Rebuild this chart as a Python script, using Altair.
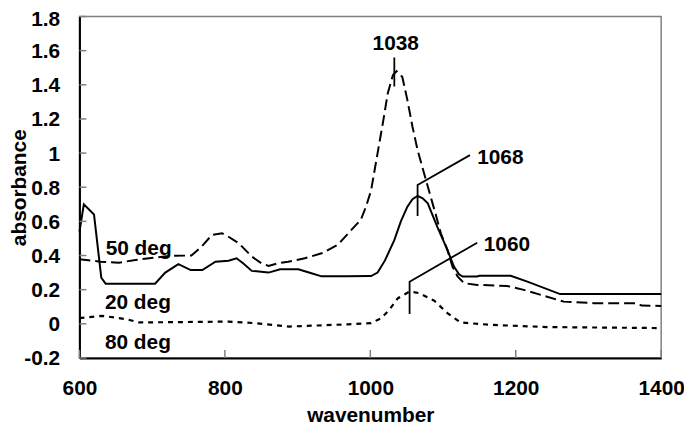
import altair as alt
import pandas as pd

# ---- data ----
x20 = [600, 606, 620, 630, 636, 704, 718, 736, 753, 769, 787, 805, 816, 825, 837, 860, 876, 901, 919, 933,
       965, 1001, 1010, 1020, 1033, 1042, 1051, 1058, 1065, 1072, 1079, 1092, 1106, 1115, 1122, 1127, 1147,
       1150, 1193, 1216, 1261, 1400]
y20 = [0.54, 0.70, 0.64, 0.27, 0.235, 0.235, 0.30, 0.35, 0.315, 0.315, 0.364, 0.37, 0.384, 0.355, 0.31, 0.30,
       0.32, 0.32, 0.296, 0.278, 0.278, 0.28, 0.30, 0.37, 0.49, 0.60, 0.686, 0.73, 0.749, 0.735, 0.706, 0.569,
       0.433, 0.335, 0.29, 0.277, 0.277, 0.281, 0.281, 0.247, 0.174, 0.174]

x50 = [600, 629, 654, 677, 723, 754, 768, 782, 796, 805, 819, 837, 850, 860, 873, 887, 910, 933, 955, 974,
       987, 994, 1001, 1010, 1017, 1024, 1031, 1036, 1044, 1051, 1058, 1065, 1074, 1083, 1090, 1097, 1106,
       1113, 1120, 1129, 1147, 1188, 1211, 1239, 1266, 1307, 1366, 1373, 1400]
y50 = [0.378, 0.364, 0.358, 0.374, 0.398, 0.40, 0.452, 0.52, 0.53, 0.51, 0.472, 0.394, 0.355, 0.339, 0.355,
       0.364, 0.384, 0.413, 0.462, 0.55, 0.61, 0.686, 0.78, 1.0, 1.17, 1.35, 1.456, 1.48, 1.446, 1.31, 1.154,
       1.018, 0.88, 0.744, 0.64, 0.53, 0.433, 0.335, 0.277, 0.238, 0.228, 0.222, 0.199, 0.164, 0.13, 0.121,
       0.121, 0.107, 0.105]

x80 = [600, 631, 665, 682, 805, 841, 889, 969, 1001, 1015, 1026, 1038, 1054, 1067, 1088, 1106, 1124, 1165,
       1243, 1400]
y80 = [0.033, 0.047, 0.027, 0.008, 0.013, 0.004, -0.016, -0.003, 0.004, 0.033, 0.082, 0.15, 0.189, 0.18,
       0.135, 0.063, 0.008, -0.006, -0.019, -0.025]

# peak annotation leader lines
lead_id = ["1038", "1038", "1068", "1068", "1068", "1060", "1060", "1060"]
lead_x = [1033, 1033, 1137, 1065, 1065, 1147, 1054, 1054]
lead_y = [1.56, 1.39, 0.988, 0.813, 0.632, 0.475, 0.247, 0.058]
lead_ord = [0, 1, 0, 1, 2, 0, 1, 2]

# peak labels
peak_text = ["1068", "1060"]
peak_x = [1147, 1156]
peak_y = [0.969, 0.462]
top_text = ["1038"]
top_x = [1035]
top_y = [1.64]

# series labels
ser_text = ["50 deg", "20 deg", "80 deg"]
ser_x = [636, 635, 635]
ser_y = [0.437, 0.121, -0.113]

x_ticks = [600, 800, 1000, 1200, 1400]
y_ticks = [-0.2, 0, 0.2, 0.4, 0.6, 0.8, 1.0, 1.2, 1.4, 1.6, 1.8]

FONT = "Liberation Sans"
FS = 21

xs = alt.Scale(domain=[600, 1400], nice=False, zero=False)
ys = alt.Scale(domain=[-0.2, 1.8], nice=False, zero=False)

d20 = pd.DataFrame({"x": x20, "y": y20, "o": range(len(x20))})
d50 = pd.DataFrame({"x": x50, "y": y50, "o": range(len(x50))})
d80 = pd.DataFrame({"x": x80, "y": y80, "o": range(len(x80))})
dlead = pd.DataFrame({"id": lead_id, "x": lead_x, "y": lead_y, "o": lead_ord})
dpeak = pd.DataFrame({"t": peak_text, "x": peak_x, "y": peak_y})
dtop = pd.DataFrame({"t": top_text, "x": top_x, "y": top_y})
dser = pd.DataFrame({"t": ser_text, "x": ser_x, "y": ser_y})
dxt = pd.DataFrame({"v": x_ticks})
dyt = pd.DataFrame({"v": y_ticks})

X_AX = alt.Axis(values=x_ticks, title="wavenumber", ticks=False, grid=False, labelPadding=20,
                labelFlush=False, format="d", titleY=64, titleBaseline="alphabetic")
Y_AX = alt.Axis(values=y_ticks, title="absorbance", ticks=False, grid=False, labelPadding=20,
                labelOffset={"condition": {"test": "datum.value > 1.7", "value": 3}, "value": 1},
                labelFlush=False,
                labelExpr="toString(round(datum.value*10)/10)", titleX=-60, titleBaseline="middle")

base_line = alt.Chart(d20).mark_line(color="black", strokeWidth=2).encode(
    x=alt.X("x:Q", scale=xs, axis=X_AX),
    y=alt.Y("y:Q", scale=ys, axis=Y_AX),
    order="o:Q",
)

line50 = alt.Chart(d50).mark_line(color="black", strokeWidth=2, strokeDash=[11, 5]).encode(
    x=alt.X("x:Q", scale=xs, axis=X_AX), y=alt.Y("y:Q", scale=ys, axis=Y_AX), order="o:Q")
line80 = alt.Chart(d80).mark_line(color="black", strokeWidth=2.2, strokeDash=[5, 5]).encode(
    x=alt.X("x:Q", scale=xs, axis=X_AX), y=alt.Y("y:Q", scale=ys, axis=Y_AX), order="o:Q")

leads = alt.Chart(dlead).mark_line(color="black", strokeWidth=1.8).encode(
    x=alt.X("x:Q", scale=xs, axis=X_AX), y=alt.Y("y:Q", scale=ys, axis=Y_AX),
    detail="id:N", order="o:Q")

peak_lbl = alt.Chart(dpeak).mark_text(align="left", baseline="middle", font=FONT, fontWeight="bold",
                                      fontSize=FS, color="black").encode(
    x=alt.X("x:Q", scale=xs, axis=X_AX), y=alt.Y("y:Q", scale=ys, axis=Y_AX), text="t:N")
top_lbl = alt.Chart(dtop).mark_text(align="center", baseline="middle", font=FONT, fontWeight="bold",
                                    fontSize=FS, color="black").encode(
    x=alt.X("x:Q", scale=xs, axis=X_AX), y=alt.Y("y:Q", scale=ys, axis=Y_AX), text="t:N")
ser_lbl = alt.Chart(dser).mark_text(align="left", baseline="middle", font=FONT, fontWeight="bold",
                                    fontSize=FS, color="black").encode(
    x=alt.X("x:Q", scale=xs, axis=X_AX), y=alt.Y("y:Q", scale=ys, axis=Y_AX), text="t:N")

xtick = alt.Chart(dxt).mark_rule(color="#808080", strokeWidth=1.5).encode(
    x=alt.X("v:Q", scale=xs, axis=X_AX), y=alt.value(344), y2=alt.value(336))
ytick = alt.Chart(dyt).mark_rule(color="#808080", strokeWidth=1.5).encode(
    y=alt.Y("v:Q", scale=ys, axis=Y_AX), x=alt.value(0), x2=alt.value(7))

chart = alt.layer(base_line, xtick, ytick, line50, line80, leads, peak_lbl, top_lbl, ser_lbl).properties(
    width=586, height=344,
    autosize=alt.AutoSizeParams(type="none"),
    padding={"left": 72, "top": 7, "right": 23, "bottom": 70},
).configure_view(
    stroke="#808080", strokeWidth=1.5
).configure_axis(
    domainColor="black", domainWidth=2,
    labelFont=FONT, labelFontSize=FS, labelFontWeight="bold", labelColor="black",
    titleFont=FONT, titleFontSize=FS, titleFontWeight="bold", titleColor="black",
)

chart.save("out.html", embed_options={"renderer": "svg", "actions": False})
